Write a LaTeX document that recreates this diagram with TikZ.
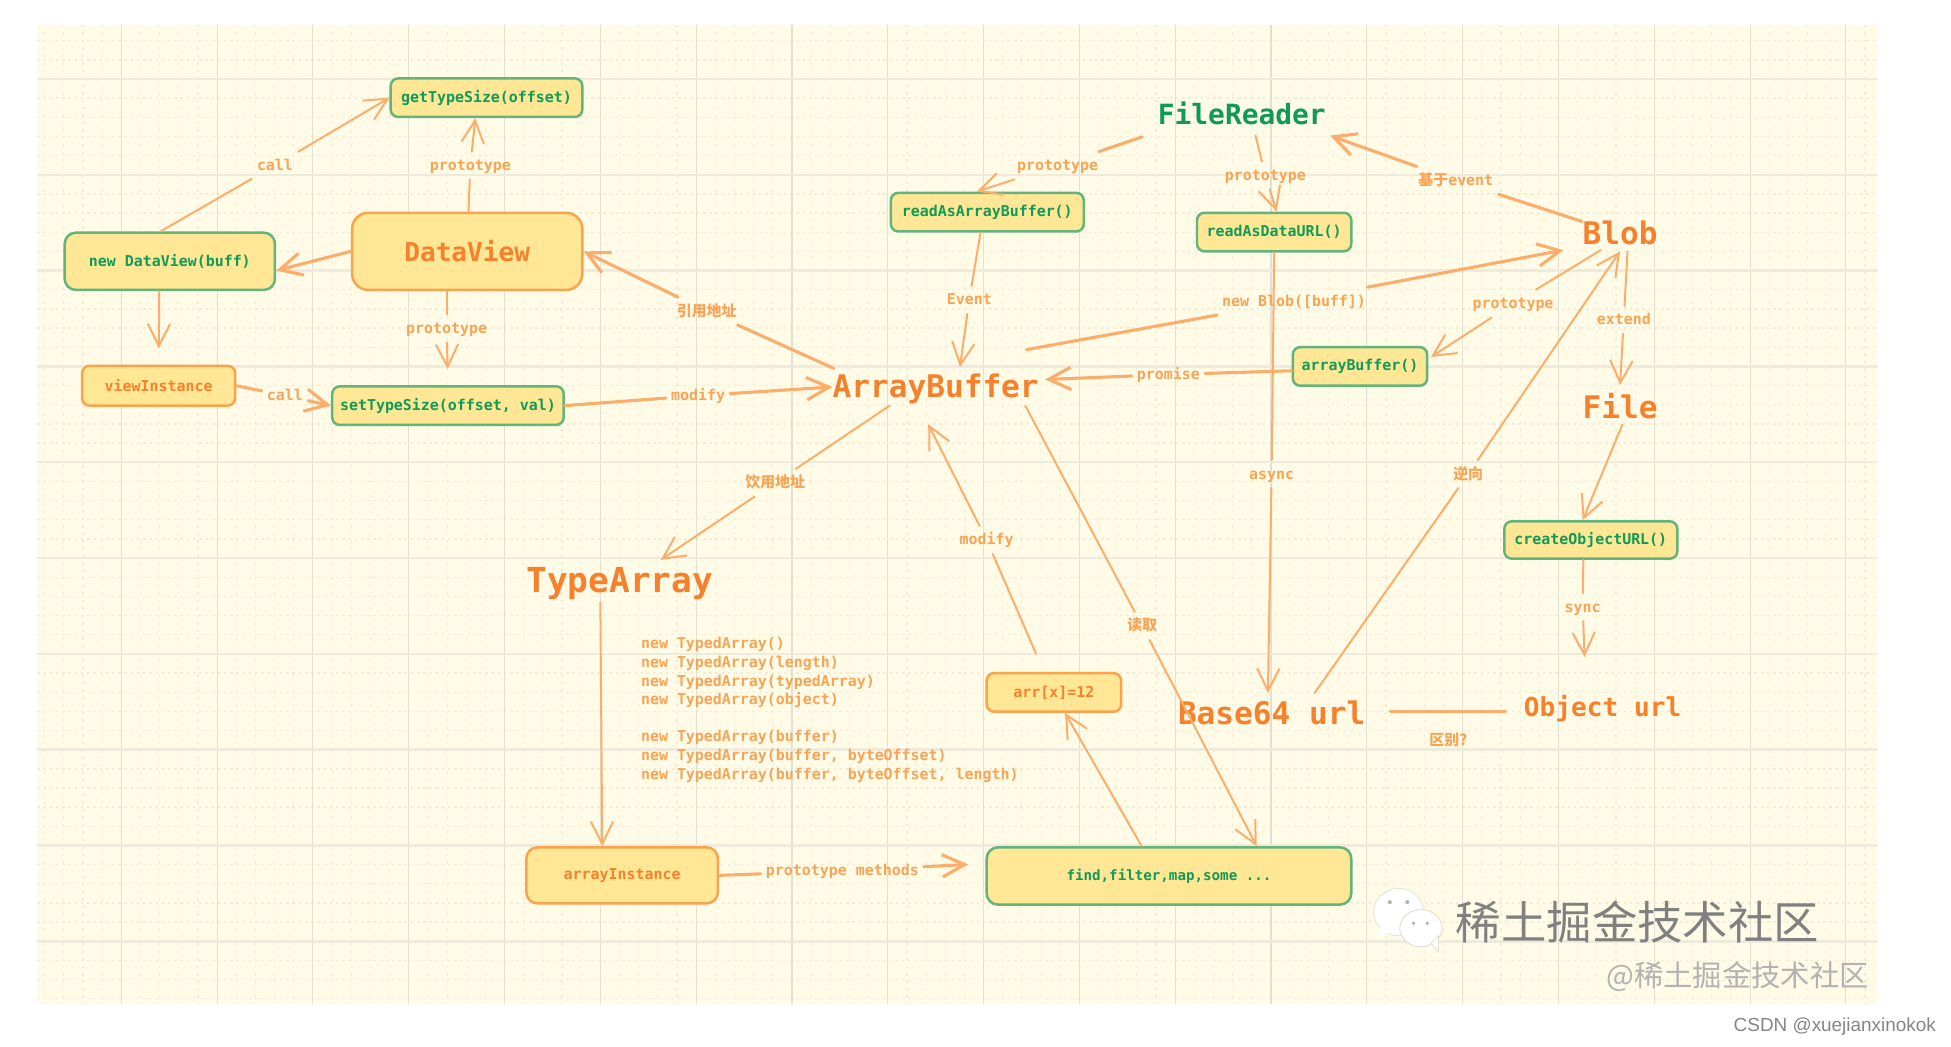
\documentclass[tikz,border=0pt]{standalone}
\usepackage{fontspec}
\usetikzlibrary{arrows.meta}
\setmainfont{Liberation Sans}
\setmonofont{DejaVu Sans Mono}
\newfontfamily\cjkfont{Noto Sans CJK SC}
\definecolor{panelbg}{HTML}{FFFBE7}
\definecolor{gridV}{HTML}{E2E0D4}
\definecolor{gridH}{HTML}{EEEBDD}
\definecolor{gridM}{HTML}{F0ECD6}
\definecolor{boxfill}{HTML}{FFE795}
\definecolor{gborder}{HTML}{62B47A}
\definecolor{oborder}{HTML}{FBA24D}
\definecolor{gtext}{HTML}{0F9A58}
\definecolor{otext}{HTML}{F6812C}
\definecolor{ltext}{HTML}{F8A456}
\definecolor{linecol}{HTML}{FBAE6C}
\tikzset{
  x=1pt,y=-1pt,
  gbox/.style={draw=gborder,fill=boxfill,line width=2pt,rounded corners=6pt,inner sep=0pt,text=gtext,font=\fontsize{12}{14}\ttfamily\bfseries},
  obox/.style={gbox,draw=oborder,text=otext},
  lab/.style={text=ltext,font=\fontsize{12}{14}\ttfamily\bfseries,inner xsep=4pt,inner ysep=5pt,text height=10pt,text depth=2pt},
  big/.style={inner sep=0pt,text=otext,font=\fontsize{#1}{#1}\ttfamily\bfseries},
  conn/.style={draw=linecol,line width=1.6pt,line join=round,line cap=round},
  connb/.style={conn,line width=2.5pt},
  head/.style={-{Straight Barb[length=18pt,width=18pt]}},
}
\newcommand{\cjk}[1]{{\cjkfont #1}}
\begin{document}
\begin{tikzpicture}
\useasboundingbox (0,0) rectangle (1568,840.7);
\fill[white] (0,0) rectangle (1568,840.7);
\fill[panelbg] (30,20) rectangle (1509,807);
% minor grid
\begin{scope}
\clip (30,20) rectangle (1509,807);
\foreach \i in {0,...,97} \draw[gridM,line width=.9pt,dash pattern=on 2pt off 4pt] ({35.9+15.4*\i},20) -- ({35.9+15.4*\i},807);
\foreach \i in {0,...,51} \draw[gridM,line width=1.1pt,dash pattern=on 2pt off 3pt] (30,{32.7+15.4*\i}) -- (1509,{32.7+15.4*\i});
\foreach \i in {0,...,18} \draw[gridV,line width=.9pt] ({97.5+77*\i},20) -- ({97.5+77*\i},807);
\foreach \i in {0,...,9} \draw[gridH,line width=2pt] (30,{63.5+77*\i}) -- (1509,{63.5+77*\i});
\end{scope}
% nodes
\node[gbox,minimum width=154pt,minimum height=31pt] (gts) at (391,78.5) {getTypeSize(offset)};
\node[gbox,minimum width=169pt,minimum height=46pt,rounded corners=9pt] (ndv) at (136.5,210) {new DataView(buff)};
\node[obox,minimum width=185pt,minimum height=62pt,rounded corners=13pt,font=\fontsize{21}{24}\ttfamily\bfseries] (dv) at (375.5,202) {DataView};
\node[obox,minimum width=123pt,minimum height=32pt] (vi) at (127.5,310) {viewInstance};
\node[gbox,minimum width=186pt,minimum height=31pt] (sts) at (360,326) {setTypeSize(offset, val)};
\node[big=25,text height=22.5pt] (ab) at (752,311) {ArrayBuffer};
\node[gbox,minimum width=155pt,minimum height=31pt] (rab) at (793.5,170.5) {readAsArrayBuffer()};
\node[gbox,minimum width=124pt,minimum height=31pt] (rdu) at (1024,186.5) {readAsDataURL()};
\node[big=22.4,text=gtext] (fr) at (998,91) {FileReader};
\node[big=25] (blob) at (1302,187) {Blob};
\node[big=25] (file) at (1302,326) {File};
\node[gbox,minimum width=108pt,minimum height=31pt] (abf) at (1093,294.5) {arrayBuffer()};
\node[gbox,minimum width=139pt,minimum height=30pt] (cou) at (1278.5,434) {createObjectURL()};
\node[big=27.7,text height=26.2pt] (ta) at (498,466) {TypeArray};
\node[big=25] (b64) at (1022,573) {Base64 url};
\node[big=21,text height=18.5pt] (ou) at (1288,569) {Object url};
\node[obox,minimum width=108pt,minimum height=31pt] (arr) at (847,556.5) {arr[x]=12};
\node[obox,minimum width=154pt,minimum height=45pt,rounded corners=9pt] (ai) at (500,703.5) {arrayInstance};
\node[gbox,minimum width=293pt,minimum height=46pt,rounded corners=9pt,font=\fontsize{11.4}{14}\ttfamily\bfseries] (find) at (939.5,704) {find,filter,map,some ...};
\node[text=ltext,font=\fontsize{12}{15}\ttfamily\bfseries,align=left,anchor=west,inner sep=0pt] (tb) at (515,570.5) {new TypedArray()\\new TypedArray(length)\\new TypedArray(typedArray)\\new TypedArray(object)\\[14.6pt]new TypedArray(buffer)\\new TypedArray(buffer, byteOffset)\\new TypedArray(buffer, byteOffset, length)};
% labels
\node[lab] (l1) at (221,133) {call};
\node[lab] (l2) at (378,133) {prototype};
\node[lab] (l5) at (359,264) {prototype};
\node[lab] (l6) at (229,318) {call};
\node[lab] (l7) at (561,318) {modify};
\node[lab] (l8) at (568,250) {\cjk{引用地址}};
\node[lab] (l9) at (623,388) {\cjk{饮用地址}};
\node[lab] (l11) at (677,700) {prototype methods};
\node[lab] (l13) at (793,434) {modify};
\node[lab] (l14) at (918,503) {\cjk{读取}};
\node[lab] (l15) at (1180,381) {\cjk{逆向}};
\node[lab] (l16) at (1022,381) {async};
\node[lab] (l17) at (1040,242) {new Blob([buff])};
\node[lab] (l18) at (939,301) {promise};
\node[lab] (l19) at (1216,244) {prototype};
\node[lab] (l20) at (1305,257) {extend};
\node[lab] (l22) at (1272,488) {sync};
\node[lab] (l23) at (1164,595) {\cjk{区别?}};
\node[lab] (l24) at (1170,145) {\cjk{基于}event};
\node[lab] (l25) at (850,133) {prototype};
\node[lab] (l26) at (1017,141) {prototype};
\node[lab] (l27) at (779,241) {Event};
% connectors
\draw[conn] ([xshift=-7.5pt]ndv.north) -- (l1);
\draw[conn,head] (l1) -- (gts.west);
\draw[conn] ([xshift=1pt]dv.north) -- (l2);
\draw[conn,head] (l2) -- ([xshift=-9pt]gts.south);
\draw[connb,head] (dv.west) -- ([yshift=-7.5pt]ndv.east);
\draw[conn,head,shorten >=13pt] ([xshift=-8.5pt]ndv.south) -- (vi.north);
\draw[conn] ([xshift=-16.5pt]dv.south) -- (l5);
\draw[conn,head,shorten >=13pt] (l5) -- (sts.north);
\draw[connb] (vi.east) -- (l6);
\draw[connb,head] (l6) -- (sts.west);
\draw[connb] (sts.east) -- (l7);
\draw[connb,head] (l7) -- (ab.west);
\draw[connb] ([xshift=-82pt,yshift=15pt]ab.center) -- (l8);
\draw[connb,head] (l8) -- (dv.east);
\draw[conn] ([xshift=-37pt,yshift=-15pt]ab.center) -- (l9);
\draw[conn,head] (l9) -- ([xshift=33pt,yshift=16pt]ta.center);
\draw[conn,head] ([xshift=-15.5pt,yshift=-18pt]ta.center) -- ([xshift=-16pt]ai.north);
\draw[connb] (ai.east) -- (l11);
\draw[connb,head,shorten >=14pt] (l11) -- ([yshift=10pt]find.west);
\draw[conn,head] ([xshift=-22pt]find.north) -- ([xshift=9pt]arr.south);
\draw[conn,shorten <=16pt] ([xshift=-8pt]arr.north) -- (l13);
\draw[conn,head] (l13) -- ([xshift=-6pt,yshift=-30pt]ab.center);
\draw[conn] ([xshift=72pt,yshift=-15pt]ab.center) -- (l14);
\draw[conn,head] (l14) -- ([xshift=70.5pt]find.north);
\draw[conn] ([xshift=34.5pt,yshift=16pt]b64.center) -- (l15);
\draw[conn,head] (l15) -- ([yshift=-15pt]blob.center);
\draw[conn] (rdu.south) -- (l16);
\draw[conn,head] (l16) -- ([xshift=-3pt,yshift=16pt]b64.center);
\draw[connb] ([xshift=73pt,yshift=30pt]ab.center) -- (l17);
\draw[connb,head] (l17) -- ([xshift=-45.5pt,yshift=-14pt]blob.center);
\draw[connb] ([yshift=-3.5pt]abf.west) -- (l18);
\draw[connb,head] (l18) -- ([xshift=88pt,yshift=6pt]ab.center);
\draw[conn] ([xshift=-15.5pt,yshift=-14pt]blob.center) -- (l19);
\draw[conn,head] (l19) -- ([xshift=2pt,yshift=7.5pt]abf.east);
\draw[conn] ([xshift=6pt,yshift=-15pt]blob.center) -- (l20);
\draw[conn,head] (l20) -- ([yshift=16.5pt]file.center);
\draw[conn,head] ([xshift=2pt,yshift=-15pt]file.center) -- ([xshift=-6.5pt]cou.north);
\draw[conn] ([xshift=-6pt]cou.south) -- (l22);
\draw[conn,head] (l22) -- ([xshift=-14.5pt,yshift=41pt]ou.center);
\draw[connb] ([xshift=95.5pt,yshift=1pt]b64.center) -- ([xshift=-78pt,yshift=-3pt]ou.center);
\draw[connb] ([xshift=-30.5pt,yshift=9pt]blob.center) -- (l24);
\draw[connb,head] (l24) -- ([xshift=71pt,yshift=-18pt]fr.center);
\draw[connb] ([xshift=-80pt,yshift=-19pt]fr.center) -- (l25);
\draw[conn,head] (l25) -- ([xshift=-8.5pt]rab.north);
\draw[conn] ([xshift=11pt,yshift=-18pt]fr.center) -- (l26);
\draw[conn,head] (l26) -- ([xshift=2pt]rdu.north);
\draw[conn] ([xshift=-5.5pt]rab.south) -- (l27);
\draw[conn,head] (l27) -- ([xshift=19.5pt,yshift=16pt]ab.center);
% watermark
\fill[white,draw=gridV,line width=.6pt] (1124,733) ellipse [x radius=20,y radius=19];
\fill[white] (1110,745) -- (1106,753) -- (1118,749) -- cycle;
\fill[white,draw=gridV,line width=.8pt] (1142,746) ellipse [x radius=17,y radius=15];
\fill[white,draw=gridV,line width=.6pt] (1150,758) -- (1156,765) -- (1156,752) -- cycle;
\fill[gray!60] (1117,725) circle (1.6) (1131,725) circle (1.6) (1136,742) circle (1.5) (1147,742) circle (1.5);
\node[inner sep=0pt,text=black!50,font=\fontsize{36.5}{40}\cjkfont] (wm) at (1316,741) {稀土掘金技术社区};
\node[inner sep=0pt,text=black!30,font=\fontsize{23.6}{26}\cjkfont] (wm2) at (1396.5,785) {@稀土掘金技术社区};
\node[inner sep=0pt,text=black!48,font=\fontsize{15.2}{18}\selectfont,anchor=east] (csdn) at (1556,825) {CSDN @xuejianxinokok};
\end{tikzpicture}
\end{document}
